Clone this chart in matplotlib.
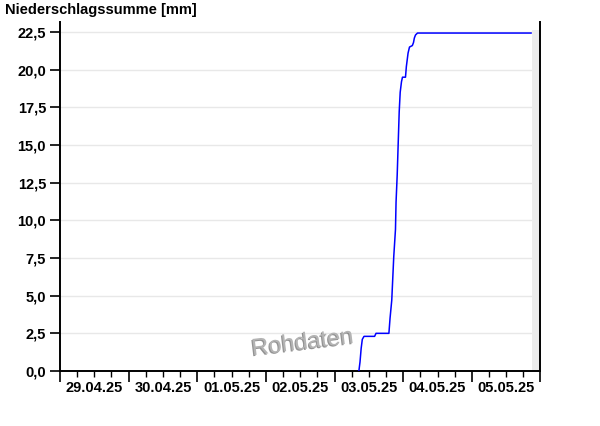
import datetime as dt

import matplotlib

matplotlib.use("Agg")
import matplotlib.dates as mdates
import matplotlib.pyplot as plt
import matplotlib.patheffects as pe
from matplotlib.ticker import FuncFormatter, MultipleLocator

# Stunden seit 03.05.25 00:00 und aufsummierter Niederschlag in mm
hours = [8.5, 8.9, 9.3, 9.7, 10.3, 14.0, 14.5, 19.0, 19.4, 20.0, 20.7, 21.3, 21.5,
         21.9, 22.25, 22.6, 22.95, 23.4, 23.75, 24.8, 25.1, 25.7, 26.2, 27.2, 27.6,
         27.9, 28.3, 29.0, 68.7]
precip = [0.0, 0.6, 1.5, 2.1, 2.3, 2.3, 2.5, 2.5, 3.5, 4.7, 7.6, 9.4, 11.2,
          13.0, 15.1, 17.2, 18.5, 19.2, 19.5, 19.5, 20.2, 21.1, 21.5, 21.6, 21.8,
          22.1, 22.3, 22.43, 22.43]

START = dt.datetime(2025, 4, 29)
END = dt.datetime(2025, 5, 6)
BASE = dt.datetime(2025, 5, 3)
NOW = dt.datetime(2025, 5, 5, 21, 10)
day_labels = ["29.04.25", "30.04.25", "01.05.25", "02.05.25", "03.05.25", "04.05.25", "05.05.25"]

plt.rcParams["font.family"] = ["Liberation Sans", "DejaVu Sans"]

fig = plt.figure(figsize=(6.0, 4.26), dpi=100)
ax = fig.add_axes([0.1, 0.1291, 0.8008, 0.8181])

times = [BASE + dt.timedelta(hours=h) for h in hours]
ax.plot(times, precip, color="#0000ff", linewidth=1.1, zorder=3)

# grauer Bereich: Zukunft ohne Daten
ax.fill_between([NOW, END], 0, 22.63, color="#ececec", linewidth=0, zorder=1)

ax.set_xlim(START, END)
ax.set_ylim(0, 23.13)

ax.yaxis.set_major_locator(MultipleLocator(2.5))
ax.yaxis.set_major_formatter(FuncFormatter(lambda v, _: f"{v:.1f}".replace(".", ",")))
ax.grid(axis="y", color="#e8e8e8", linewidth=1.0, zorder=0)
ax.set_axisbelow(True)

ax.xaxis.set_major_locator(mdates.DayLocator())
ax.xaxis.set_minor_locator(mdates.HourLocator(byhour=[6, 12, 18]))
ax.xaxis.set_major_formatter(FuncFormatter(lambda v, _: ""))
for i, label in enumerate(day_labels):
    ax.text(START + dt.timedelta(days=i, hours=12), -1.1, label, ha="center", va="center",
            fontsize=10.5, fontweight="bold")

ax.tick_params(axis="x", which="major", length=8, width=1.2, direction="out")
ax.tick_params(axis="x", which="minor", length=4, width=1.0, direction="out")
ax.tick_params(axis="y", length=7, width=1.2, labelsize=10.5, pad=3)
for lbl in ax.get_yticklabels():
    lbl.set_fontweight("bold")

ax.spines["top"].set_visible(False)
for side in ("left", "bottom", "right"):
    ax.spines[side].set_linewidth(1.4)
    ax.spines[side].set_color("black")

fig.text(5 / 600, 1 - 10 / 426, "Niederschlagssumme [mm]", ha="left", va="center",
         fontsize=10.5, fontweight="bold")

ax.text(0.505, 0.08, "Rohdaten", transform=ax.transAxes, ha="center", va="center",
        rotation=7, fontsize=17, color="#b4b4b4", zorder=4,
        path_effects=[pe.withSimplePatchShadow(offset=(-0.8, -0.8), shadow_rgbFace="#666666", alpha=0.7)])

fig.savefig("out.png", dpi=100)
